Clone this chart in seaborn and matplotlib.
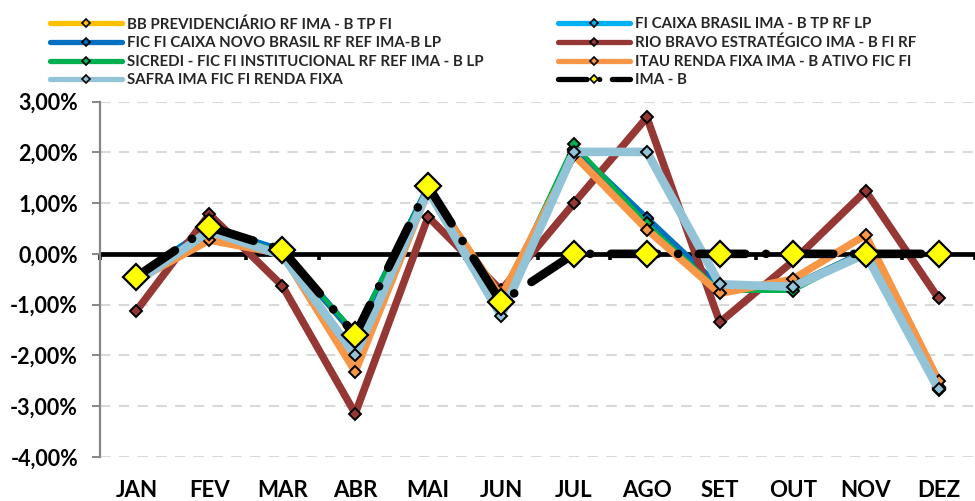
import numpy as np
import pandas as pd
import matplotlib
matplotlib.use("Agg")
import matplotlib.pyplot as plt
import seaborn as sns
from matplotlib.lines import Line2D
from matplotlib.ticker import FuncFormatter

# ==============================
# DADOS (rentabilidade mensal, %)
# ==============================
meses = ["JAN", "FEV", "MAR", "ABR", "MAI", "JUN", "JUL", "AGO", "SET", "OUT", "NOV", "DEZ"]

bb_prev = [-0.45, 0.50, 0.05, -1.62, 1.30, -0.95, 2.05, 0.62, -0.68, -0.62, 0.05, -2.62]
caixa_brasil = [-0.45, 0.52, 0.06, -1.60, 1.32, -0.95, 2.05, 0.68, -0.66, -0.62, 0.04, -2.64]
caixa_novo = [-0.45, 0.52, 0.07, -1.60, 1.32, -0.93, 2.07, 0.70, -0.65, -0.64, 0.05, -2.65]
rio_bravo = [-1.12, 0.78, -0.63, -3.15, 0.73, -0.72, 1.00, 2.69, -1.35, -0.15, 1.24, -0.88]
sicredi = [-0.50, 0.50, 0.03, -1.55, 1.32, -0.90, 2.16, 0.60, -0.73, -0.73, 0.02, -2.68]
itau = [-0.52, 0.27, 0.00, -2.32, 1.25, -0.85, 1.95, 0.48, -0.78, -0.50, 0.37, -2.50]
safra = [-0.55, 0.45, -0.03, -2.00, 1.25, -1.22, 2.01, 2.01, -0.60, -0.65, 0.00, -2.67]
ima_b = [-0.45, 0.53, 0.08, -1.60, 1.33, -0.95, 0.00, 0.00, 0.00, 0.00, 0.00, 0.00]

nomes = [
    "BB PREVIDENCIÁRIO RF IMA - B TP FI",
    "FI CAIXA BRASIL IMA - B TP RF LP",
    "FIC FI CAIXA NOVO BRASIL RF REF IMA-B LP",
    "RIO BRAVO ESTRATÉGICO IMA - B FI RF",
    "SICREDI - FIC FI INSTITUCIONAL RF REF IMA - B LP",
    "ITAU RENDA FIXA IMA - B ATIVO FIC FI",
    "SAFRA IMA FIC FI RENDA FIXA",
    "IMA - B",
]
series = [bb_prev, caixa_brasil, caixa_novo, rio_bravo, sicredi, itau, safra, ima_b]
cores = ["#FFC000", "#00B0F0", "#0070C0", "#953735", "#00B050", "#F79646", "#92C3D6", "#000000"]
espessuras = [4.4, 4.4, 4.6, 5.4, 3.0, 5.4, 6.2, 6.2]

# ==============================
# ESTILO
# ==============================
sns.set_theme(style="white")
plt.rcParams["font.family"] = ["Lato", "DejaVu Sans"]
plt.rcParams["font.weight"] = "bold"

fig = plt.figure(figsize=(9.75, 5.01), dpi=100)
ax = fig.add_axes([0.1026, 0.0884, 0.8974, 0.7086])

# eixo auxiliar so para as marcas entre os meses sobre a linha do zero
ax2 = ax.twiny()
ax2.set_zorder(ax.get_zorder() - 1)
ax.patch.set_visible(False)

x = np.arange(len(meses))
ima_dash = (0, (5.4, 2.4, 0.01, 2.4))

for nome, vals, cor, lw in zip(nomes, series, cores, espessuras):
    if nome == "IMA - B":
        sns.lineplot(x=x, y=vals, ax=ax, color=cor, linewidth=lw, linestyle=ima_dash,
                     dash_capstyle="round", solid_joinstyle="round",
                     marker="D", markersize=13.5, markerfacecolor="#FFFF00",
                     markeredgecolor="black", markeredgewidth=1.6, zorder=5, legend=False)
    else:
        sns.lineplot(x=x, y=vals, ax=ax, color=cor, linewidth=lw,
                     solid_capstyle="round", solid_joinstyle="round",
                     marker="D", markersize=5.8, markerfacecolor=cor,
                     markeredgecolor="black", markeredgewidth=1.4, zorder=3, legend=False)

ax.axhline(0, color="black", lw=3.4, zorder=1.8)

ax.set_xlim(-0.5, 11.5)
ax.set_ylim(-4, 3)
ax.set_yticks(np.arange(-4, 3.01, 1))
ax.yaxis.set_major_formatter(FuncFormatter(lambda v, p: f"{v:.2f}%".replace(".", ",")))
ax.set_xticks(x)
ax.set_xticklabels(meses)
ax.set_xlabel("")
ax.set_ylabel("")

ax.yaxis.grid(True, color="#D9D9D9", linestyle=(0, (5, 4)), linewidth=1.5)
ax.xaxis.grid(False)
for s in ["top", "right", "bottom"]:
    ax.spines[s].set_visible(False)
ax.spines["left"].set_color("#868686")
ax.spines["left"].set_linewidth(1.6)

ax.tick_params(axis="y", which="major", left=True, length=5.8, width=1.4, color="#868686",
               pad=10, labelsize=15.5, labelcolor="black")
ax.tick_params(axis="x", which="major", bottom=False, length=0, pad=17, labelsize=16,
               labelcolor="black")
for lab in ax.get_xticklabels() + ax.get_yticklabels():
    lab.set_fontweight("bold")

ax2.set_xlim(ax.get_xlim())
ax2.xaxis.set_ticks_position("bottom")
ax2.spines["bottom"].set_position(("data", 0))
for s in ["top", "right", "left", "bottom"]:
    ax2.spines[s].set_visible(False)
ax2.set_xticks(np.arange(-0.5, 12, 1))
ax2.set_xticklabels([])
ax2.tick_params(axis="x", length=4.5, width=2.6, color="black", direction="out")

# ==============================
# TITULO (cortado no topo) E LEGENDA
# ==============================
fig.text(0.515, 1.002, "Rentabilidade Mensal", ha="center", va="baseline",
         fontsize=22, fontweight="bold", color="#7F7F7F")

handles = []
for nome, cor in zip(nomes, cores):
    if nome == "IMA - B":
        h = Line2D([], [], color=cor, lw=3.8, linestyle=ima_dash, dash_capstyle="round",
                   marker="D", markersize=4.4, markerfacecolor="#FFFF00",
                   markeredgecolor="black", markeredgewidth=1.2)
    else:
        h = Line2D([], [], color=cor, lw=3.8, solid_capstyle="round",
                   marker="D", markersize=4.4, markerfacecolor=cor,
                   markeredgecolor="black", markeredgewidth=1.2)
    handles.append(h)

leg_kw = dict(frameon=False, loc="upper left", borderaxespad=0, borderpad=0,
              handlelength=4.8, handletextpad=0.34, labelspacing=0.31, numpoints=1,
              prop={"size": 10.8, "weight": "bold"})
fig.legend(handles[0::2], nomes[0::2], bbox_to_anchor=(0.051, 0.966), **leg_kw)
fig.legend(handles[1::2], nomes[1::2], bbox_to_anchor=(0.572, 0.966), **leg_kw)

plt.savefig("out.png", dpi=100)
